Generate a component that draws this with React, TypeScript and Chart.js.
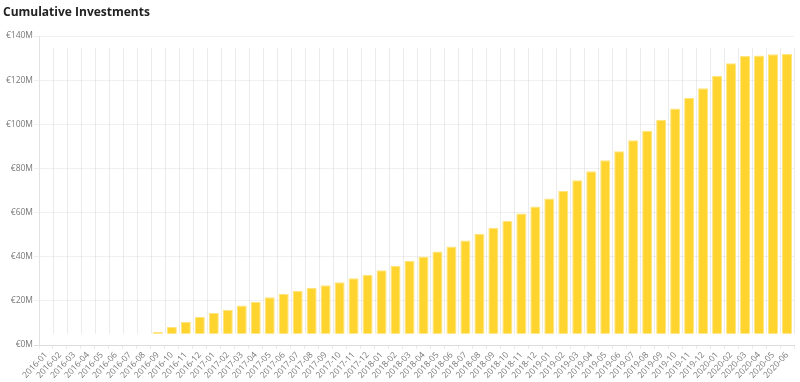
import React, { useEffect, useRef } from "react";
import { Chart, registerables } from "chart.js";

Chart.register(...registerables);

const TITLE = "Cumulative Investments";

const categories = [
  "2016-01", "2016-02", "2016-03", "2016-04", "2016-05", "2016-06", "2016-07", "2016-08",
  "2016-09", "2016-10", "2016-11", "2016-12",
  "2017-01", "2017-02", "2017-03", "2017-04", "2017-05", "2017-06",
  "2017-07", "2017-08", "2017-09", "2017-10", "2017-11", "2017-12",
  "2018-01", "2018-02", "2018-03", "2018-04", "2018-05", "2018-06",
  "2018-07", "2018-08", "2018-09", "2018-10", "2018-11", "2018-12",
  "2019-01", "2019-02", "2019-03", "2019-04", "2019-05", "2019-06",
  "2019-07", "2019-08", "2019-09", "2019-10", "2019-11", "2019-12",
  "2020-01", "2020-02", "2020-03", "2020-04", "2020-05", "2020-06",
];

// cumulative investments, € millions
const investments: (number | null)[] = [
  null, null, null, null, null, null, null, null,
  5.9, 8.1, 10.4, 12.7,
  14.5, 16.0, 17.9, 19.6, 21.6, 23.2,
  24.6, 25.9, 27.1, 28.4, 30.2, 31.8,
  33.9, 35.9, 38.2, 40.1, 42.4, 44.6,
  47.4, 50.4, 53.1, 56.3, 59.6, 62.7,
  66.4, 69.8, 74.7, 78.7, 83.7, 87.8,
  92.8, 97.1, 102.0, 107.2, 111.9, 116.3,
  121.9, 127.6, 130.9, 131.2, 131.7, 131.8,
];

const Y_MIN = 0;
const Y_MAX = 140;
const Y_STEP = 20;
const BAR_BASE = 5.1;
const VGRID_TOP = 134.5;

const verticalGrid = {
  id: "verticalGrid",
  beforeDatasetsDraw(chart: any) {
    const x = chart.scales.x;
    const y = chart.scales.y;
    const ctx = chart.ctx;
    const n = chart.data.labels.length;
    const step = (x.right - x.left) / n;
    const top = y.getPixelForValue(VGRID_TOP);
    const bottom = y.getPixelForValue(BAR_BASE);
    ctx.save();
    ctx.strokeStyle = "rgba(0,0,0,0.08)";
    ctx.lineWidth = 1;
    for (let i = 1; i <= n; i++) {
      const px = Math.round(x.left + i * step) + 0.5;
      ctx.beginPath();
      ctx.moveTo(px, top);
      ctx.lineTo(px, bottom);
      ctx.stroke();
    }
    ctx.restore();
  },
};

export default function App() {
  const ref = useRef<HTMLCanvasElement>(null);
  useEffect(() => {
    if (!ref.current) return;
    const chart = new Chart(ref.current, {
      type: "bar",
      data: {
        labels: categories,
        datasets: [
          {
            data: investments,
            base: BAR_BASE,
            backgroundColor: "#FFD42E",
            borderColor: "#FFE57F",
            borderWidth: 1,
            barPercentage: 0.9,
            categoryPercentage: 0.8,
          } as any,
        ],
      },
      options: {
        animation: false,
        responsive: true,
        maintainAspectRatio: false,
        layout: { padding: { left: 3, right: 6, top: 0, bottom: 0 } },
        plugins: {
          legend: { display: false },
          tooltip: { enabled: false },
          title: {
            display: true,
            text: TITLE,
            align: "start",
            color: "#222",
            font: { family: "'Open Sans'", size: 12, weight: "bold" },
            padding: { top: 5, bottom: 16.6 },
          },
        },
        scales: {
          x: {
            offset: true,
            grid: {
              offset: true,
              drawOnChartArea: false,
              drawTicks: true,
              tickLength: 4,
              color: "rgba(0,0,0,0.08)",
            },
            border: { display: true, color: "#dcdcdc" },
            ticks: {
              autoSkip: false,
              minRotation: 47,
              maxRotation: 47,
              padding: 1,
              color: "#777",
              font: { family: "'Open Sans'", size: 8.5 },
            },
            afterFit(scale: any) {
              scale.height = 37;
            },
          },
          y: {
            min: Y_MIN,
            max: Y_MAX,
            ticks: {
              stepSize: Y_STEP,
              padding: 1,
              color: "#777",
              font: { family: "'Open Sans'", size: 8.5 },
              callback: (v: any) => "€" + v + "M",
            },
            grid: {
              tickLength: 5,
              color: (c: any) => (c.tick && c.tick.value === 0 ? "#dcdcdc" : "rgba(0,0,0,0.06)"),
            },
            border: { display: true, color: "#e2e2e2" },
            afterFit(scale: any) {
              scale.width = 36;
            },
          },
        },
      },
      plugins: [verticalGrid],
    });
    return () => chart.destroy();
  }, []);
  return (
    <div style={{ position: "absolute", left: 0, top: 0, width: 800, height: 382, background: "#fff" }}>
      <canvas ref={ref} />
    </div>
  );
}
